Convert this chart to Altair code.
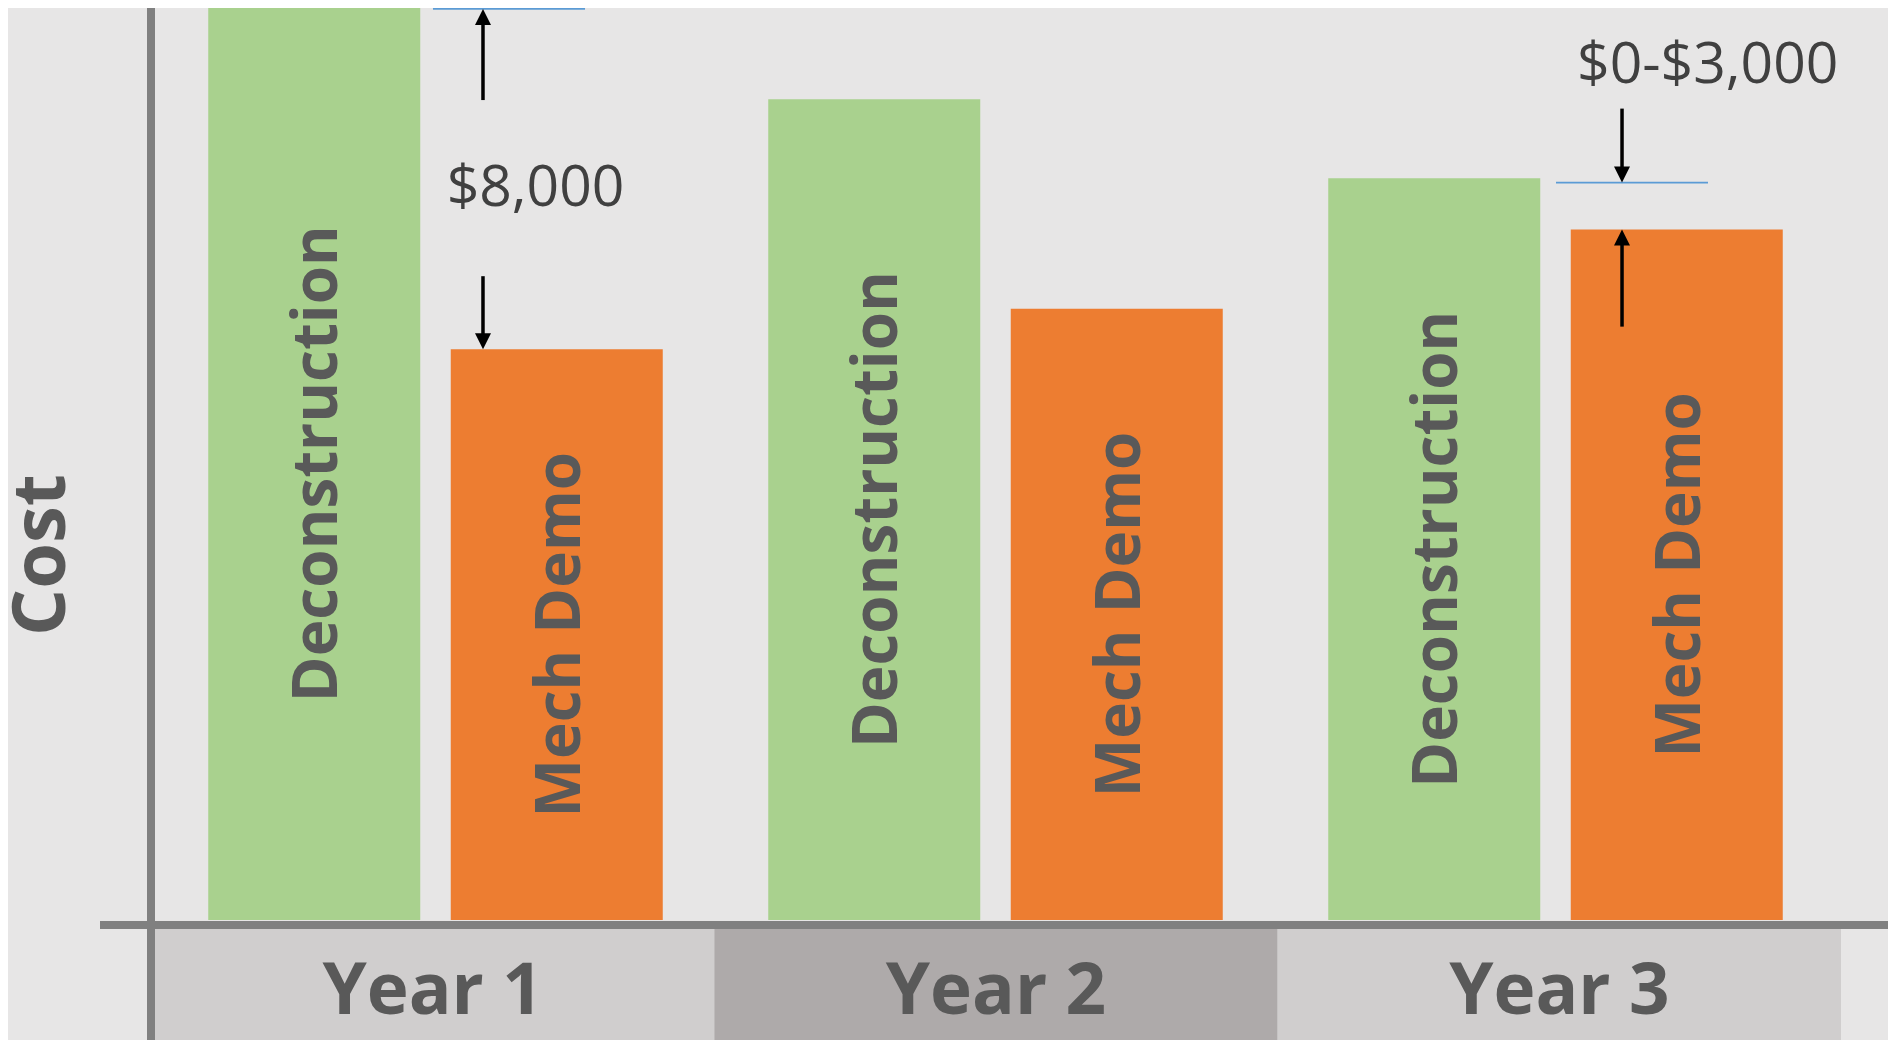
import altair as alt
import pandas as pd

# ---------------- data ----------------
years = ["Year 1", "Year 2", "Year 3"]
series = ["Deconstruction", "Mech Demo"]
deconstruction = [21350, 19200, 17350]
mech_demo = [13350, 14300, 16150]

band_colors = ["#d0cece", "#aeaaaa", "#d0cece"]
y_title = ["Cost"]

# annotations (values in dollars)
ann_years = ["Year 1", "Year 3"]
ann_labels = ["$8,000", "$0-$3,000"]
ann_ref = [21310, 17250]          # thin blue reference line
ann_label_y = [16700, 19580]      # label baseline
arrow_years = ["Year 1", "Year 1", "Year 3", "Year 3"]
arrow_tail = [19180, 15060, 18980, 13880]
arrow_tip = [21310, 13350, 17250, 16150]

W, H = 1880, 1032

# ---------------- tables ----------------
bars_df = pd.DataFrame(
    [{"year": y, "series": series[0], "cost": v} for y, v in zip(years, deconstruction)]
    + [{"year": y, "series": series[1], "cost": v} for y, v in zip(years, mech_demo)]
)
band_df = pd.DataFrame({"year": years, "fill": band_colors})
title_df = pd.DataFrame({"t": y_title})
ann_df = pd.DataFrame({"year": ann_years, "label": ann_labels, "ref": ann_ref, "label_y": ann_label_y})
arrow_df = pd.DataFrame({"year": arrow_years, "tail": arrow_tail, "tip": arrow_tip})

BAND_SCALE = alt.Scale(type="band", domain=years, range=[143, 1833], paddingInner=0, paddingOuter=0)
BAR_SCALE = alt.Scale(type="band", domain=years, range=[147.5, 1827.5], paddingInner=0, paddingOuter=0)
Y_SCALE = alt.Scale(domain=[0, 20000], range=[912, 57], nice=False, zero=False)
OFF_SCALE = alt.Scale(type="band", domain=series, paddingInner=0.1258, paddingOuter=0.2175)


def xenc(bp=None, scale=BAR_SCALE):
    if bp is None:
        return alt.X("year:N", scale=scale, axis=None, sort=years)
    return alt.X("year:N", scale=scale, axis=None, sort=years, bandPosition=bp)


def yenc(f):
    return alt.Y(f, scale=Y_SCALE, axis=None)


bands = alt.Chart(band_df).mark_rect().encode(
    x=xenc(scale=BAND_SCALE), y=alt.value(921), y2=alt.value(H),
    fill=alt.Fill("fill:N", scale=None, legend=None),
)

bars = alt.Chart(bars_df).mark_bar().encode(
    x=xenc(),
    xOffset=alt.XOffset("series:N", scale=OFF_SCALE),
    y=yenc("cost:Q"),
    color=alt.Color("series:N", scale=alt.Scale(domain=series, range=["#a9d18e", "#ed7d31"]), legend=None),
)

bar_text = alt.Chart(bars_df).transform_calculate(mid="datum.cost / 2").mark_text(
    angle=270, font="Open Sans", fontWeight="bold", fontSize=62, color="#595959",
    align="center", baseline="alphabetic", dy=23,
).encode(
    x=xenc(),
    xOffset=alt.XOffset("series:N", scale=OFF_SCALE),
    y=yenc("mid:Q"),
    text="series:N",
)

year_text = alt.Chart(band_df).mark_text(
    font="Open Sans", fontWeight="bold", fontSize=71, color="#595959",
    align="center", baseline="alphabetic",
).encode(x=xenc(scale=BAND_SCALE), y=alt.value(1006), text="year:N")

axis_v = alt.Chart(title_df).mark_rule(color="#808080", strokeWidth=8).encode(
    x=alt.value(143), y=alt.value(0), y2=alt.value(H)
)
axis_h = alt.Chart(title_df).mark_rule(color="#808080", strokeWidth=8).encode(
    x=alt.value(92), x2=alt.value(W), y=alt.value(917)
)

cost_text = alt.Chart(title_df).mark_text(
    angle=270, font="Open Sans", fontWeight="bold", fontSize=74, color="#595959",
    align="center", baseline="alphabetic",
).encode(x=alt.value(57), y=alt.value(547), text="t:N")

SHAPES = alt.Scale(domain=["up", "down"], range=["M0,0L1,2L-1,2Z", "M0,0L1,-2L-1,-2Z"])


def annotation(year, line_bp, arrow_bp, label_bp):
    a = alt.Chart(ann_df).transform_filter(alt.datum.year == year)
    r = alt.Chart(arrow_df).transform_filter(alt.datum.year == year).transform_calculate(
        dir="datum.tip > datum.tail ? 'up' : 'down'",
        end="datum.tip > datum.tail ? datum.tip - 190 : datum.tip + 190",
    )
    line = a.mark_rule(color="#5b9bd5", strokeWidth=1.75).encode(
        x=xenc(line_bp[0]),
        x2=alt.X2("year:N", bandPosition=line_bp[1]),
        y=yenc("ref:Q"),
    )
    shaft = r.mark_rule(color="black", strokeWidth=3.5).encode(
        x=xenc(arrow_bp), y=yenc("tail:Q"), y2="end:Q"
    )
    head = r.mark_point(filled=True, size=256, color="black", opacity=1, strokeWidth=0).encode(
        x=xenc(arrow_bp), y=yenc("tip:Q"),
        shape=alt.Shape("dir:N", scale=SHAPES, legend=None),
    )
    label = a.mark_text(
        font="Open Sans", fontSize=57, color="#404040", align="center", baseline="alphabetic"
    ).encode(x=xenc(label_bp), y=yenc("label_y:Q"), text="label:N")
    return [line, shaft, head, label]


layers = [bands, bars, bar_text, year_text, axis_v, axis_h, cost_text]
layers += annotation("Year 1", (0.4955, 0.7670), 0.5848, 0.6786)
layers += annotation("Year 3", (0.5009, 0.7723), 0.6188, 0.7718)

chart = alt.layer(*layers).resolve_scale(x="independent").properties(
    width=W, height=H, padding=0,
    autosize=alt.AutoSizeParams(type="none"),
    background="#e7e6e6",
).configure_view(stroke=None)

chart.save("out.html", embed_options={"renderer": "svg", "actions": False})
